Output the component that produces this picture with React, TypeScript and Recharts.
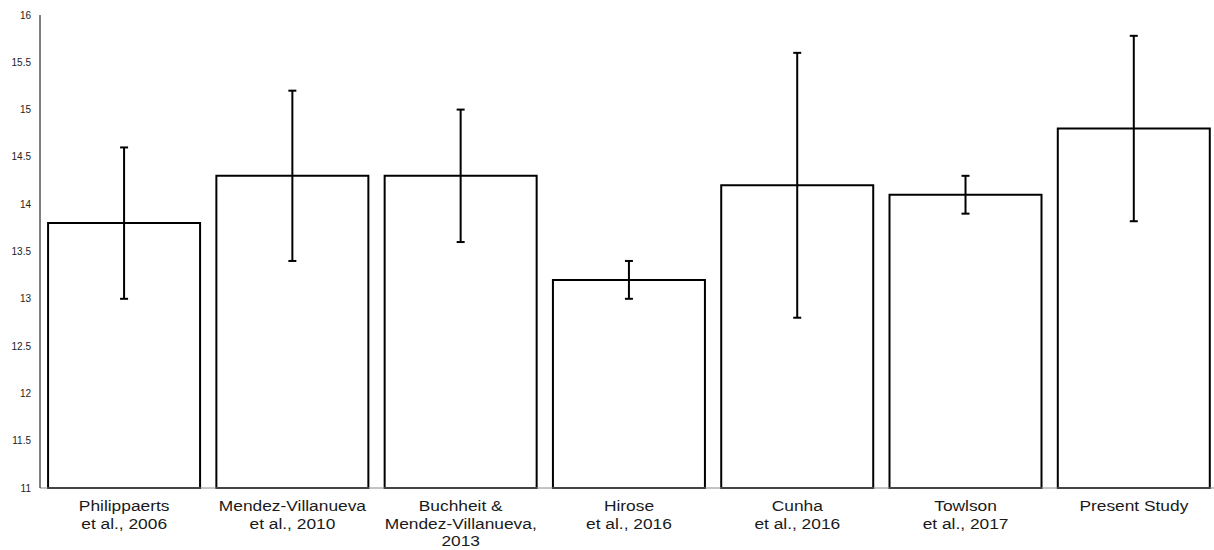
import { BarChart, Bar, XAxis, YAxis, ErrorBar } from 'recharts';

// study labels, "\n" marks a line break under the axis
const studies = [
  'Philippaerts\net al., 2006',
  'Mendez-Villanueva\net al., 2010',
  'Buchheit &\nMendez-Villanueva,\n2013',
  'Hirose\net al., 2016',
  'Cunha\net al., 2016',
  'Towlson\net al., 2017',
  'Present Study',
];

const means = [13.8, 14.3, 14.3, 13.2, 14.2, 14.1, 14.8];
const lower = [13.0, 13.4, 13.6, 13.0, 12.8, 13.9, 13.82];
const upper = [14.6, 15.2, 15.0, 13.4, 15.6, 14.3, 15.78];

const yTicks = [11, 11.5, 12, 12.5, 13, 13.5, 14, 14.5, 15, 15.5, 16];

const data = studies.map((name, i) => ({
  name,
  value: means[i],
  range: [means[i] - lower[i], upper[i] - means[i]],
}));

const FONT = '"Liberation Sans", Arial, sans-serif';

function StudyTick({ x, y, payload }: any) {
  const lines = String(payload.value).split('\n');
  return (
    <g transform={`translate(${x},${y})`}>
      <text
        textAnchor="middle"
        fill="#1a1a1a"
        fontSize={15.5}
        fontFamily={FONT}
        transform="scale(1.12,1)"
      >
        {lines.map((line, i) => (
          <tspan key={i} x={0} dy={i === 0 ? 15.5 : 17.5}>
            {line}
          </tspan>
        ))}
      </text>
    </g>
  );
}

export default function App() {
  return (
    <div style={{ position: 'absolute', left: 0, top: 0, width: 1214, height: 550, overflow: 'hidden', background: '#fff' }}>
      <BarChart
        width={1218}
        height={550}
        data={data}
        margin={{ top: 15, right: 0, left: 0, bottom: 0 }}
        barCategoryGap="4.8%"
      >
        <XAxis
          dataKey="name"
          interval={0}
          height={62}
          tickLine={false}
          axisLine={{ stroke: '#888', strokeWidth: 1 }}
          tick={<StudyTick />}
        />
        <YAxis
          width={40}
          domain={[11, 16]}
          ticks={yTicks}
          tickLine={false}
          tickMargin={3}
          axisLine={{ stroke: '#000', strokeWidth: 1 }}
          tick={{ fill: '#222', fontSize: 10, fontFamily: FONT }}
        />
        <Bar dataKey="value" fill="#fff" stroke="#000" strokeWidth={2} isAnimationActive={false}>
          <ErrorBar dataKey="range" width={4} stroke="#000" strokeWidth={2} />
        </Bar>
      </BarChart>
    </div>
  );
}
